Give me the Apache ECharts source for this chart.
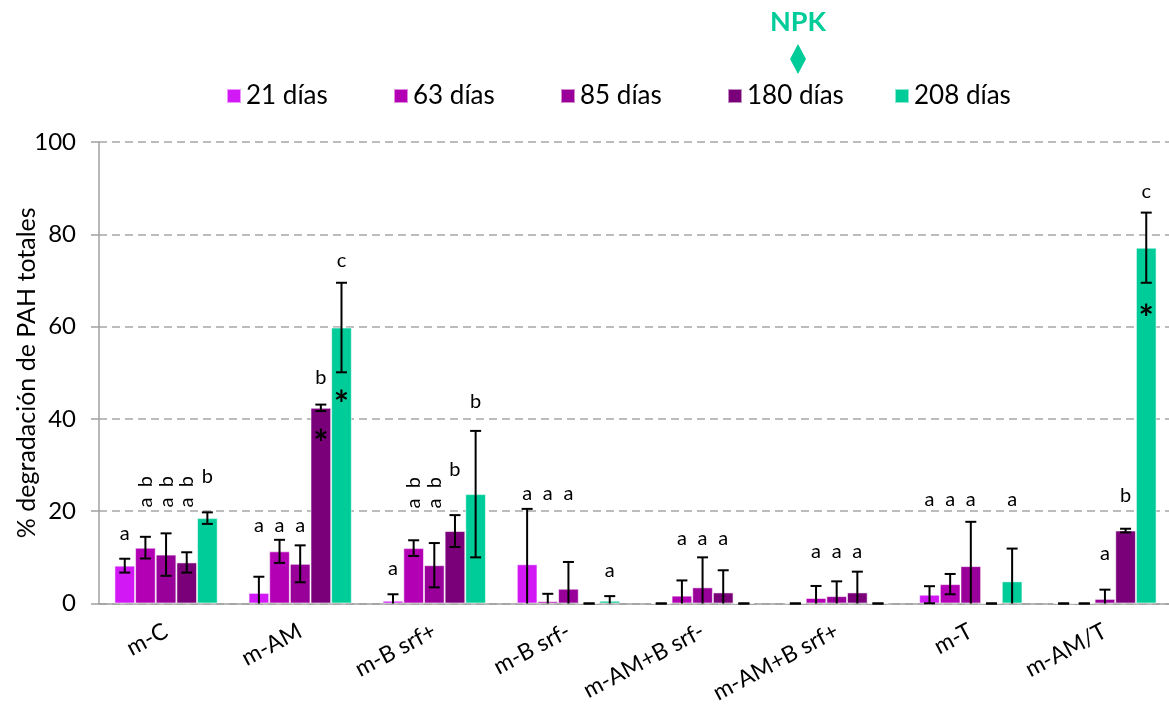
<!DOCTYPE html>
<html>
<head>
<meta charset="utf-8">
<script src="https://cdn.jsdelivr.net/npm/echarts@6/dist/echarts.min.js"></script>
<style>
  html, body { margin: 0; padding: 0; background: #ffffff; }
  #chart { width: 1169px; height: 711px; }
</style>
</head>
<body>
<div id="chart"></div>
<script>
// Treatments on the x axis
const categories = ['m-C', 'm-AM', 'm-B srf+', 'm-B srf-', 'm-AM+B srf-', 'm-AM+B srf+', 'm-T', 'm-AM/T'];
// Sampling times (one bar series each)
const seriesNames = ['21 días', '63 días', '85 días', '180 días', '208 días'];

// Mean % degradation of total PAH
const d21  = [8.2, 2.3, 0.6, 8.5, 0, 0, 1.9, 0];
const d63  = [12.1, 11.3, 12.0, 0.5, 1.7, 1.2, 4.2, 0];
const d85  = [10.6, 8.6, 8.3, 3.2, 3.5, 1.6, 8.1, 1.0];
const d180 = [8.9, 42.4, 15.7, 0, 2.4, 2.4, 0, 15.8];
const d208 = [18.5, 59.8, 23.7, 0.6, 0, 0, 4.8, 77.1];

// Standard deviations (error bars)
const e21  = [1.5, 3.5, 1.4, 12.0, 0, 0, 1.85, 0];
const e63  = [2.35, 2.5, 1.7, 1.6, 3.3, 2.6, 2.2, 0];
const e85  = [4.6, 4.0, 4.8, 5.8, 6.5, 3.2, 9.6, 2.0];
const e180 = [2.2, 0.7, 3.45, 0, 4.8, 4.5, 0, 0.4];
const e208 = [1.25, 9.7, 13.7, 1.0, 0, 0, 7.1, 7.6];

// Significance letters ('a b' is written vertically)
const L21  = ['a', 'a', 'a', 'a', '', '', 'a', ''];
const L63  = ['a b', 'a', 'a b', 'a', 'a', 'a', 'a', ''];
const L85  = ['a b', 'a', 'a b', 'a', 'a', 'a', 'a', 'a'];
const L180 = ['a b', 'b', 'b', '', 'a', 'a', '', 'b'];
const L208 = ['b', 'c', 'b', 'a', '', '', 'a', 'c'];

// Height (in % units) where each letter sits
const H21  = [15.2, 16.8, 7.6, 23.8, 0, 0, 22.5, 0];
const H63  = [24.2, 16.8, 24.0, 23.8, 14.1, 11.2, 22.5, 0];
const H85  = [24.2, 16.8, 24.0, 23.8, 14.1, 11.2, 22.5, 10.8];
const H180 = [24.2, 49.0, 29.0, 0, 14.1, 11.2, 0, 23.4];
const H208 = [27.6, 74.3, 43.7, 7.2, 0, 0, 22.5, 89.2];

// Asterisks (significant vs. control), height in % units, null = none
const S180 = [null, 35.4, null, null, null, null, null, null];
const S208 = [null, 43.9, null, null, null, null, null, 62.5];

const yTicks = [0, 20, 40, 60, 80, 100];

const colors = ['#D118F5', '#B400B4', '#990099', '#7A007A', '#00CC99'];
const values = [d21, d63, d85, d180, d208];
const errors = [e21, e63, e85, e180, e208];
const letters = [L21, L63, L85, L180, L208];
const heights = [H21, H63, H85, H180, H208];
const stars = [null, null, null, S180, S208];

const GAP = 0.23;
const FONT = 'Lato, "Liberation Sans", sans-serif';

function barCenter(api, ci, s) {
  const band = api.size([1, 0])[0];
  const bw = band * (1 - GAP) / seriesNames.length;
  return api.coord([ci, 0])[0] + (s - (seriesNames.length - 1) / 2) * bw;
}

function errorRenderer(s) {
  return function (params, api) {
    const ci = api.value(0), v = api.value(1), e = api.value(2);
    const cx = barCenter(api, ci, s);
    const yTop = api.coord([ci, v + e])[1];
    const lowVal = v - e;
    const yBot = api.coord([ci, Math.max(0, lowVal)])[1];
    const cap = 5.5;
    const st = { stroke: '#000', lineWidth: 2 };
    const children = [
      { type: 'line', shape: { x1: cx, y1: yTop, x2: cx, y2: yBot }, style: st },
      { type: 'line', shape: { x1: cx - cap, y1: yTop, x2: cx + cap, y2: yTop }, style: st }
    ];
    if (lowVal >= 0) {
      children.push({ type: 'line', shape: { x1: cx - cap, y1: yBot, x2: cx + cap, y2: yBot }, style: st });
    }
    return { type: 'group', children: children };
  };
}

function letterRenderer(s) {
  return function (params, api) {
    const ci = api.value(0), h = api.value(1);
    const txt = letters[s][ci];
    const cx = barCenter(api, ci, s);
    const cy = api.coord([ci, h])[1];
    const vertical = txt.indexOf(' ') >= 0;
    return {
      type: 'text',
      x: cx, y: cy,
      rotation: vertical ? Math.PI / 2 : 0,
      style: {
        text: vertical ? txt.replace(' ', '  ') : txt,
        fill: '#000', fontSize: 20, fontFamily: FONT,
        align: 'center', verticalAlign: 'middle'
      }
    };
  };
}

function starRenderer(s) {
  return function (params, api) {
    const ci = api.value(0), h = api.value(1);
    const cx = barCenter(api, ci, s);
    const cy = api.coord([ci, h])[1];
    return {
      type: 'text', x: cx, y: cy + 4,
      style: {
        text: '*', fill: '#000', fontSize: 36, fontWeight: 'bold', fontFamily: FONT,
        align: 'center', verticalAlign: 'middle'
      }
    };
  };
}

const series = [];
seriesNames.forEach(function (name, s) {
  series.push({
    name: name, type: 'bar', data: values[s],
    barGap: 0, barCategoryGap: (GAP * 100) + '%',
    itemStyle: { color: colors[s], borderColor: 'rgba(255,255,255,0.55)', borderWidth: 1 },
    emphasis: { disabled: true }, z: 2
  });
});
seriesNames.forEach(function (name, s) {
  series.push({
    type: 'custom', name: name + ' DE', renderItem: errorRenderer(s), z: 5, silent: true,
    data: values[s].map(function (v, i) { return [i, v, errors[s][i]]; })
  });
  const lab = [];
  letters[s].forEach(function (t, i) { if (t) lab.push([i, heights[s][i]]); });
  series.push({ type: 'custom', name: name + ' letras', renderItem: letterRenderer(s), z: 6, silent: true, data: lab });
  if (stars[s]) {
    const st = [];
    stars[s].forEach(function (h, i) { if (h != null) st.push([i, h]); });
    series.push({ type: 'custom', name: name + ' sig', renderItem: starRenderer(s), z: 6, silent: true, data: st });
  }
});

// One legend block per sampling time, evenly spaced
const legends = seriesNames.map(function (name, i) {
  return {
    data: [name], top: 78, left: 221 + i * 167,
    icon: 'rect', itemWidth: 14, itemHeight: 14,
    textStyle: { fontSize: 26, fontFamily: FONT, color: '#000' },
    selectedMode: false
  };
});

const chart = echarts.init(document.getElementById('chart'), null, { renderer: 'canvas' });
chart.setOption({
  animation: false,
  color: colors,
  grid: { left: 99, right: -3, top: 142, bottom: 107.5, containLabel: false, outerBoundsMode: 'none' },
  legend: legends,
  xAxis: {
    type: 'category', data: categories,
    axisLine: { lineStyle: { color: '#A0A0A0', width: 1.5 } },
    axisTick: { length: 8, lineStyle: { color: '#A0A0A0', width: 1.5 } },
    axisLabel: { interval: 0, rotate: 28, fontSize: 23, fontFamily: FONT, color: '#000', margin: 26 }
  },
  yAxis: {
    type: 'value', min: yTicks[0], max: yTicks[yTicks.length - 1], interval: yTicks[1] - yTicks[0],
    name: '% degradación de PAH totales', nameLocation: 'middle', nameGap: 60, nameMoveOverlap: false,
    nameTextStyle: { fontSize: 25, fontFamily: FONT, color: '#000' },
    axisLine: { show: true, lineStyle: { color: '#A0A0A0', width: 1.5 } },
    axisTick: { show: true, length: 8, lineStyle: { color: '#A0A0A0', width: 1.5 } },
    axisLabel: { fontSize: 24, fontFamily: FONT, color: '#000', margin: 23 },
    splitLine: { show: true, lineStyle: { color: '#A6A6A6', width: 1.5, type: [8, 5] } }
  },
  graphic: [
    { type: 'text', x: 798, y: 22, style: { text: 'NPK', fill: '#00CC99', fontSize: 27, fontWeight: 'bold', fontFamily: FONT, align: 'center', verticalAlign: 'middle' } },
    { type: 'polygon', shape: { points: [[798, 44], [806, 59], [798, 74], [790, 59]] }, style: { fill: '#00CC99' } }
  ],
  series: series
});
</script>
</body>
</html>
